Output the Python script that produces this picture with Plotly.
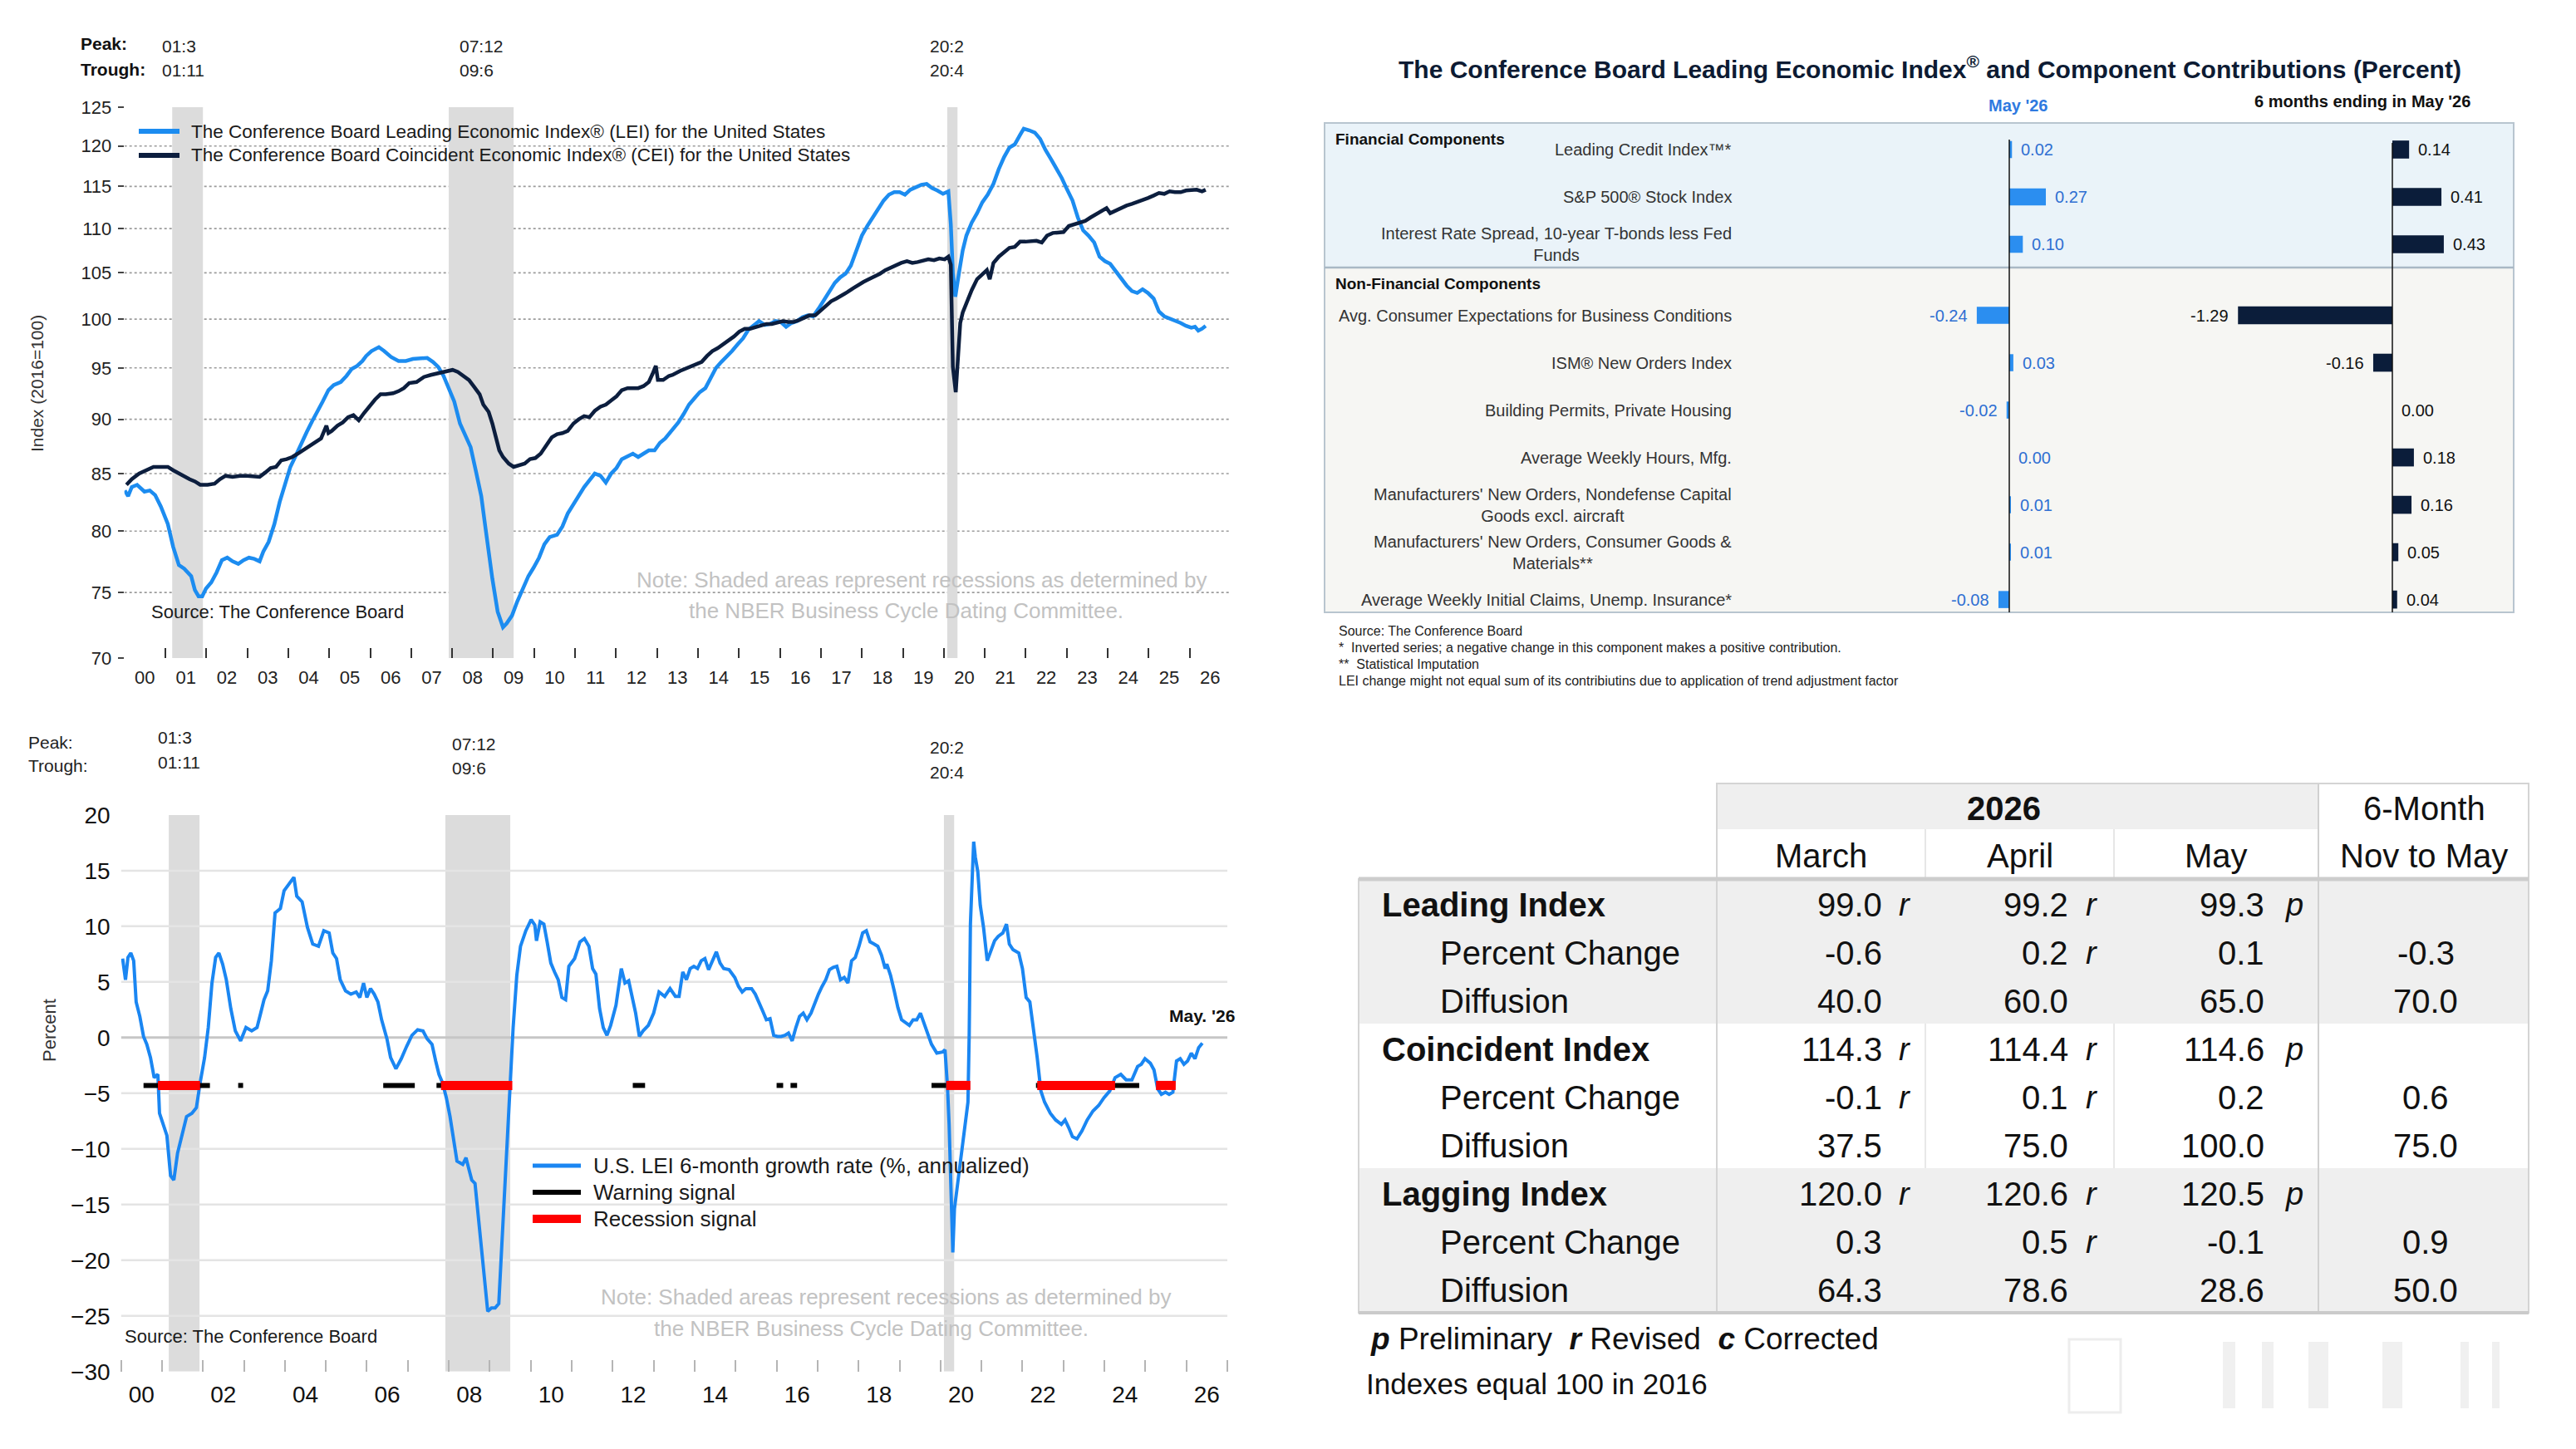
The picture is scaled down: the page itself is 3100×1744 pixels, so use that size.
import plotly.graph_objects as go

W, H = 3100, 1744
FONT = "Liberation Sans, Arial, sans-serif"


def px(x):
    return x / W


def py(y):
    return 1 - y / H


# ---------------------------------------------------------------- data
peak_dates = ["01:3", "07:12", "20:2"]
trough_dates = ["01:11", "09:6", "20:4"]

top_year_labels = ["%02d" % i for i in range(0, 27)]
bottom_year_labels = ["%02d" % i for i in range(0, 27, 2)]
top_y_ticks = [70, 75, 80, 85, 90, 95, 100, 105, 110, 115, 120, 125]
bottom_y_ticks = [-30, -25, -20, -15, -10, -5, 0, 5, 10, 15, 20]

lei = [
    (2000.01, 83.5), (2000.09, 83.0), (2000.18, 83.8), (2000.31, 84.0), (2000.49, 83.4), (2000.62, 83.5),
    (2000.75, 83.1), (2000.89, 82.1), (2001.06, 80.6), (2001.19, 78.7), (2001.33, 77.2), (2001.46, 76.9),
    (2001.63, 76.3), (2001.72, 75.2), (2001.81, 74.7), (2001.90, 74.7), (2001.99, 75.3), (2002.12, 75.8),
    (2002.25, 76.6), (2002.38, 77.6), (2002.51, 77.8), (2002.64, 77.5), (2002.78, 77.3), (2002.91, 77.6),
    (2003.04, 77.8), (2003.17, 77.7), (2003.30, 77.5), (2003.39, 78.3), (2003.52, 79.1), (2003.66, 80.6),
    (2003.79, 82.5), (2003.92, 84.0), (2004.05, 85.6), (2004.18, 86.6), (2004.32, 87.8), (2004.45, 88.8),
    (2004.58, 89.8), (2004.71, 90.7), (2004.84, 91.7), (2004.98, 92.8), (2005.11, 93.3), (2005.28, 93.6),
    (2005.42, 94.2), (2005.55, 94.9), (2005.68, 95.2), (2005.81, 95.7), (2005.90, 96.2), (2006.03, 96.7),
    (2006.21, 97.1), (2006.34, 96.7), (2006.51, 96.1), (2006.69, 95.7), (2006.87, 95.7), (2007.04, 95.9),
    (2007.22, 96.0), (2007.39, 96.0), (2007.53, 95.6), (2007.66, 95.1), (2007.79, 94.2), (2007.92, 93.0),
    (2008.05, 91.7), (2008.19, 89.6), (2008.32, 88.4), (2008.45, 87.4), (2008.58, 85.2), (2008.71, 83.0),
    (2008.80, 80.6), (2008.89, 78.1), (2008.98, 76.1), (2009.11, 73.5), (2009.24, 72.3), (2009.33, 72.6),
    (2009.46, 73.2), (2009.59, 74.3), (2009.72, 75.2), (2009.86, 76.3), (2009.99, 77.0), (2010.12, 77.8),
    (2010.25, 78.9), (2010.38, 79.5), (2010.56, 79.7), (2010.69, 80.4), (2010.82, 81.5), (2010.96, 82.3),
    (2011.09, 83.0), (2011.22, 83.8), (2011.35, 84.4), (2011.48, 85.0), (2011.62, 84.8), (2011.75, 84.2),
    (2011.88, 85.0), (2012.01, 85.5), (2012.14, 86.3), (2012.28, 86.6), (2012.41, 86.8), (2012.54, 86.5),
    (2012.67, 86.8), (2012.80, 87.1), (2012.94, 87.1), (2013.07, 87.8), (2013.20, 88.2), (2013.33, 88.8),
    (2013.52, 89.7), (2013.65, 90.5), (2013.78, 91.4), (2013.91, 92.0), (2014.04, 92.6), (2014.18, 93.0),
    (2014.31, 94.1), (2014.44, 95.0), (2014.57, 95.6), (2014.70, 96.1), (2014.83, 96.7), (2014.97, 97.4),
    (2015.10, 98.0), (2015.23, 98.9), (2015.36, 99.4), (2015.49, 99.8), (2015.63, 99.4), (2015.76, 99.5),
    (2015.89, 99.8), (2016.02, 99.7), (2016.15, 99.2), (2016.28, 99.6), (2016.42, 99.8), (2016.55, 100.2),
    (2016.68, 100.4), (2016.81, 100.3), (2016.94, 101.1), (2017.08, 102.1), (2017.21, 102.9), (2017.34, 103.9),
    (2017.47, 104.5), (2017.60, 104.9), (2017.73, 105.8), (2017.87, 107.5), (2018.00, 109.2), (2018.13, 110.3),
    (2018.26, 111.3), (2018.39, 112.4), (2018.53, 113.3), (2018.66, 114.0), (2018.79, 114.3), (2018.92, 114.3),
    (2019.05, 114.0), (2019.18, 114.6), (2019.32, 114.9), (2019.45, 115.2), (2019.58, 115.3), (2019.71, 114.8),
    (2019.84, 114.5), (2019.98, 114.1), (2020.11, 114.4), (2020.17, 110.5), (2020.22, 105.0), (2020.28, 102.4),
    (2020.37, 105.0), (2020.46, 107.5), (2020.55, 109.2), (2020.68, 110.7), (2020.81, 111.8), (2020.94, 113.1),
    (2021.07, 114.0), (2021.21, 115.3), (2021.34, 117.1), (2021.47, 118.6), (2021.60, 119.8), (2021.73, 120.2),
    (2021.86, 121.4), (2021.95, 122.2), (2022.08, 122.0), (2022.22, 121.7), (2022.35, 120.9), (2022.48, 119.5),
    (2022.61, 118.4), (2022.74, 117.3), (2022.88, 116.0), (2023.01, 114.6), (2023.14, 113.3), (2023.27, 111.3),
    (2023.40, 109.8), (2023.53, 109.2), (2023.67, 108.4), (2023.80, 106.8), (2023.93, 106.3), (2024.06, 106.0),
    (2024.19, 105.2), (2024.33, 104.3), (2024.46, 103.6), (2024.59, 103.0), (2024.72, 102.8), (2024.85, 103.2),
    (2024.98, 102.8), (2025.12, 102.2), (2025.25, 100.8), (2025.38, 100.3), (2025.51, 100.1), (2025.64, 99.9),
    (2025.78, 99.6), (2025.91, 99.3), (2026.04, 99.1), (2026.13, 99.2), (2026.21, 98.8), (2026.30, 99.0),
    (2026.39, 99.3),
]

cei = [
    (2000.05, 84.0), (2000.18, 84.5), (2000.36, 85.0), (2000.54, 85.3), (2000.71, 85.6), (2000.89, 85.6),
    (2001.06, 85.6), (2001.19, 85.3), (2001.33, 85.0), (2001.46, 84.7), (2001.59, 84.5), (2001.72, 84.3),
    (2001.85, 84.0), (2002.03, 84.0), (2002.20, 84.1), (2002.33, 84.5), (2002.47, 84.8), (2002.64, 84.7),
    (2002.82, 84.8), (2003.00, 84.8), (2003.17, 84.7), (2003.30, 84.7), (2003.44, 85.1), (2003.57, 85.5),
    (2003.70, 85.6), (2003.83, 86.2), (2003.96, 86.3), (2004.10, 86.5), (2004.23, 86.8), (2004.36, 87.1),
    (2004.49, 87.5), (2004.62, 87.8), (2004.80, 88.2), (2004.93, 89.4), (2004.98, 88.7), (2005.06, 88.9),
    (2005.20, 89.4), (2005.33, 89.7), (2005.46, 90.2), (2005.59, 90.4), (2005.72, 89.9), (2005.85, 90.6),
    (2005.99, 91.3), (2006.12, 91.9), (2006.25, 92.4), (2006.38, 92.4), (2006.56, 92.5), (2006.69, 92.7),
    (2006.82, 93.0), (2006.95, 93.5), (2007.13, 93.6), (2007.31, 94.1), (2007.48, 94.3), (2007.66, 94.5),
    (2007.84, 94.7), (2008.01, 94.8), (2008.14, 94.6), (2008.27, 94.2), (2008.41, 93.8), (2008.54, 93.1),
    (2008.67, 92.4), (2008.76, 91.4), (2008.89, 90.7), (2008.98, 89.6), (2009.07, 88.3), (2009.15, 87.1),
    (2009.24, 86.5), (2009.38, 85.9), (2009.50, 85.6), (2009.64, 85.8), (2009.77, 85.9), (2009.90, 86.3),
    (2010.03, 86.4), (2010.16, 86.8), (2010.30, 87.6), (2010.43, 88.3), (2010.56, 88.6), (2010.69, 88.7),
    (2010.82, 88.9), (2010.96, 89.6), (2011.09, 90.0), (2011.22, 90.3), (2011.35, 90.2), (2011.48, 90.8),
    (2011.62, 91.2), (2011.75, 91.4), (2011.88, 91.8), (2012.01, 92.2), (2012.14, 92.8), (2012.28, 93.0),
    (2012.41, 93.0), (2012.54, 93.0), (2012.67, 93.2), (2012.80, 93.6), (2012.89, 94.4), (2012.97, 95.2),
    (2013.02, 93.8), (2013.15, 93.8), (2013.29, 94.2), (2013.38, 94.3), (2013.56, 94.7), (2013.74, 95.0),
    (2013.91, 95.3), (2014.09, 95.6), (2014.22, 96.2), (2014.35, 96.7), (2014.48, 97.0), (2014.62, 97.4),
    (2014.75, 97.8), (2014.88, 98.2), (2015.01, 98.7), (2015.14, 99.0), (2015.27, 99.0), (2015.41, 99.2),
    (2015.54, 99.4), (2015.67, 99.5), (2015.80, 99.5), (2015.93, 99.6), (2016.07, 99.8), (2016.20, 99.7),
    (2016.33, 99.7), (2016.46, 99.9), (2016.59, 100.2), (2016.72, 100.4), (2016.86, 100.4), (2016.99, 100.9),
    (2017.12, 101.3), (2017.25, 101.9), (2017.38, 102.2), (2017.51, 102.5), (2017.65, 102.9), (2017.78, 103.3),
    (2017.91, 103.7), (2018.04, 104.0), (2018.17, 104.3), (2018.31, 104.6), (2018.44, 104.9), (2018.57, 105.3),
    (2018.70, 105.6), (2018.83, 105.9), (2018.96, 106.1), (2019.10, 106.3), (2019.23, 106.1), (2019.36, 106.2),
    (2019.49, 106.3), (2019.62, 106.5), (2019.76, 106.4), (2019.89, 106.6), (2020.02, 106.5), (2020.11, 106.8),
    (2020.17, 105.9), (2020.22, 95.1), (2020.29, 92.6), (2020.34, 95.9), (2020.40, 99.6), (2020.46, 100.7),
    (2020.55, 101.7), (2020.68, 103.1), (2020.81, 104.3), (2020.94, 104.8), (2021.05, 105.3), (2021.12, 104.3),
    (2021.21, 106.1), (2021.34, 106.8), (2021.47, 107.3), (2021.60, 107.8), (2021.73, 107.9), (2021.86, 108.5),
    (2021.99, 108.5), (2022.13, 108.5), (2022.26, 108.6), (2022.39, 108.4), (2022.52, 109.2), (2022.66, 109.5),
    (2022.79, 109.6), (2022.92, 109.6), (2023.05, 110.3), (2023.18, 110.5), (2023.31, 110.7), (2023.45, 110.9),
    (2023.58, 111.3), (2023.71, 111.7), (2023.84, 112.0), (2023.97, 112.4), (2024.06, 111.8), (2024.19, 112.1),
    (2024.33, 112.4), (2024.46, 112.7), (2024.59, 112.9), (2024.72, 113.1), (2024.85, 113.4), (2024.98, 113.6),
    (2025.12, 113.9), (2025.25, 114.2), (2025.38, 114.1), (2025.51, 114.4), (2025.64, 114.3), (2025.78, 114.3),
    (2025.91, 114.5), (2026.04, 114.6), (2026.17, 114.6), (2026.30, 114.4), (2026.39, 114.6),
]

growth = [
    (2000.04, 7.1), (2000.11, 5.2), (2000.17, 7.2), (2000.24, 7.6), (2000.31, 6.9), (2000.37, 3.2),
    (2000.46, 1.9), (2000.55, 0.1), (2000.63, -0.6), (2000.72, -1.8), (2000.81, -3.6), (2000.90, -3.3),
    (2000.94, -6.8), (2001.03, -7.8), (2001.12, -8.8), (2001.21, -12.4), (2001.29, -12.8), (2001.38, -10.4),
    (2001.47, -9.1), (2001.60, -7.1), (2001.73, -6.8), (2001.84, -6.3), (2001.93, -4.1), (2002.04, -1.8),
    (2002.13, 0.9), (2002.22, 4.9), (2002.31, 7.2), (2002.39, 7.6), (2002.48, 6.6), (2002.57, 5.2),
    (2002.68, 2.6), (2002.79, 0.6), (2002.92, -0.3), (2003.05, 0.9), (2003.19, 0.6), (2003.32, 0.9),
    (2003.41, 2.2), (2003.49, 3.4), (2003.58, 4.2), (2003.67, 6.9), (2003.76, 11.2), (2003.89, 11.6),
    (2003.98, 13.2), (2004.11, 13.9), (2004.22, 14.4), (2004.29, 12.7), (2004.42, 12.2), (2004.55, 9.9),
    (2004.68, 8.4), (2004.82, 8.2), (2004.95, 9.6), (2005.08, 9.4), (2005.17, 7.6), (2005.26, 7.1),
    (2005.35, 5.2), (2005.48, 4.2), (2005.61, 3.9), (2005.74, 4.1), (2005.83, 3.6), (2005.92, 4.9),
    (2006.00, 3.6), (2006.09, 4.4), (2006.18, 3.9), (2006.27, 3.2), (2006.36, 1.6), (2006.49, -0.1),
    (2006.58, -1.8), (2006.71, -2.8), (2006.84, -1.9), (2006.97, -0.8), (2007.10, 0.2), (2007.24, 0.7),
    (2007.37, 0.6), (2007.47, -0.1), (2007.59, -0.6), (2007.68, -2.1), (2007.76, -3.3), (2007.85, -4.1),
    (2007.94, -5.4), (2008.03, -7.1), (2008.12, -9.4), (2008.20, -11.1), (2008.34, -11.4), (2008.42, -10.8),
    (2008.49, -11.8), (2008.56, -12.8), (2008.64, -13.1), (2008.73, -16.4), (2008.82, -19.4), (2008.88, -21.8),
    (2008.95, -24.6), (2009.04, -24.3), (2009.13, -24.3), (2009.22, -23.9), (2009.30, -18.4), (2009.39, -11.8),
    (2009.48, -5.1), (2009.57, 0.9), (2009.66, 5.6), (2009.75, 8.2), (2009.88, 9.6), (2010.01, 10.6),
    (2010.10, 10.1), (2010.14, 8.7), (2010.23, 10.4), (2010.32, 10.2), (2010.40, 8.6), (2010.49, 6.7),
    (2010.58, 5.9), (2010.67, 5.2), (2010.76, 3.6), (2010.85, 3.4), (2010.93, 6.4), (2011.07, 7.1),
    (2011.20, 8.6), (2011.31, 8.9), (2011.42, 8.2), (2011.51, 6.2), (2011.59, 5.7), (2011.68, 2.6),
    (2011.77, 0.9), (2011.86, 0.2), (2011.95, 1.1), (2012.08, 2.9), (2012.21, 6.2), (2012.30, 4.9),
    (2012.39, 5.1), (2012.47, 3.6), (2012.56, 2.2), (2012.65, 0.1), (2012.74, 0.6), (2012.87, 1.1),
    (2013.00, 2.2), (2013.13, 4.1), (2013.27, 3.7), (2013.40, 4.4), (2013.53, 3.7), (2013.62, 3.7),
    (2013.71, 5.9), (2013.80, 5.2), (2013.89, 6.2), (2013.98, 6.4), (2014.07, 6.2), (2014.16, 6.9),
    (2014.25, 7.1), (2014.34, 6.1), (2014.43, 6.9), (2014.53, 7.7), (2014.62, 6.7), (2014.71, 6.2),
    (2014.84, 6.1), (2014.98, 5.4), (2015.07, 4.6), (2015.16, 4.1), (2015.25, 4.4), (2015.39, 4.4),
    (2015.48, 3.9), (2015.57, 3.2), (2015.66, 2.4), (2015.75, 1.6), (2015.84, 1.7), (2015.93, 0.2),
    (2016.02, 0.1), (2016.11, 0.1), (2016.20, 0.2), (2016.29, 0.4), (2016.38, -0.3), (2016.47, 0.9),
    (2016.56, 1.9), (2016.65, 2.2), (2016.74, 1.6), (2016.84, 2.2), (2016.93, 3.1), (2017.02, 3.9),
    (2017.11, 4.6), (2017.20, 5.2), (2017.29, 6.1), (2017.38, 6.3), (2017.47, 6.4), (2017.56, 5.2),
    (2017.65, 5.4), (2017.74, 4.9), (2017.83, 6.9), (2017.92, 7.2), (2018.01, 8.2), (2018.10, 9.4),
    (2018.19, 9.6), (2018.28, 8.6), (2018.38, 8.4), (2018.47, 8.2), (2018.56, 7.4), (2018.65, 6.2),
    (2018.69, 6.6), (2018.78, 5.6), (2018.87, 4.2), (2018.96, 2.7), (2019.05, 1.6), (2019.14, 1.4),
    (2019.24, 1.1), (2019.33, 1.6), (2019.42, 1.6), (2019.51, 2.2), (2019.60, 1.2), (2019.69, 0.2),
    (2019.78, -0.6), (2019.91, -1.4), (2020.05, -1.3), (2020.11, -1.1), (2020.17, -4.4), (2020.21, -7.8),
    (2020.26, -14.4), (2020.30, -19.3), (2020.34, -15.4), (2020.41, -13.4), (2020.50, -10.4), (2020.59, -8.1),
    (2020.67, -5.8), (2020.70, 0.2), (2020.73, 10.2), (2020.78, 14.9), (2020.81, 17.6), (2020.85, 16.2),
    (2020.91, 14.9), (2020.97, 11.9), (2021.05, 9.9), (2021.14, 6.9), (2021.23, 7.9), (2021.32, 8.7),
    (2021.41, 9.1), (2021.52, 9.4), (2021.61, 10.2), (2021.68, 8.4), (2021.77, 7.9), (2021.91, 7.6),
    (2022.00, 6.2), (2022.09, 3.6), (2022.18, 3.2), (2022.27, 0.9), (2022.36, -1.8), (2022.45, -4.8),
    (2022.54, -5.8), (2022.68, -6.8), (2022.81, -7.4), (2022.95, -7.8), (2023.04, -7.4), (2023.13, -8.1),
    (2023.22, -8.9), (2023.33, -9.1), (2023.45, -8.4), (2023.58, -7.4), (2023.72, -6.6), (2023.86, -6.1),
    (2023.99, -5.4), (2024.13, -4.8), (2024.26, -3.6), (2024.40, -3.3), (2024.53, -3.8), (2024.67, -3.8),
    (2024.81, -2.6), (2024.90, -2.4), (2024.99, -1.9), (2025.12, -2.3), (2025.21, -2.9), (2025.30, -4.6),
    (2025.39, -5.1), (2025.49, -4.9), (2025.58, -5.1), (2025.67, -4.9), (2025.76, -2.1), (2025.85, -1.9),
    (2025.94, -2.4), (2026.03, -2.1), (2026.12, -1.4), (2026.21, -1.9), (2026.30, -0.9), (2026.39, -0.5),
]

warning_periods = [(2000.55, 2002.17), (2002.86, 2002.98), (2006.40, 2007.17), (2007.70, 2007.85),
                   (2012.49, 2012.79), (2016.00, 2016.16), (2016.34, 2016.50), (2019.78, 2020.14),
                   (2022.33, 2022.40), (2024.20, 2024.85)]
recession_signal_periods = [(2000.90, 2001.93), (2007.81, 2009.55), (2020.14, 2020.73),
                            (2022.36, 2024.26), (2025.26, 2025.74)]
signal_level = -4.3

components = [
    "Leading Credit Index™*",
    "S&P 500® Stock Index",
    "Interest Rate Spread, 10-year T-bonds less Fed<br>Funds",
    "Avg. Consumer Expectations for Business Conditions",
    "ISM® New Orders Index",
    "Building Permits, Private Housing",
    "Average Weekly Hours, Mfg.",
    "Manufacturers' New Orders, Nondefense Capital<br>Goods excl. aircraft",
    "Manufacturers' New Orders, Consumer Goods &<br>Materials**",
    "Average Weekly Initial Claims, Unemp. Insurance*",
]
component_group = ["fin", "fin", "fin", "non", "non", "non", "non", "non", "non", "non"]
may_contrib = [0.02, 0.27, 0.10, -0.24, 0.03, -0.02, 0.00, 0.01, 0.01, -0.08]
six_month_contrib = [0.14, 0.41, 0.43, -1.29, -0.16, 0.00, 0.18, 0.16, 0.05, 0.04]

table_labels = ["Leading Index", "Percent Change", "Diffusion",
                "Coincident Index", "Percent Change", "Diffusion",
                "Lagging Index", "Percent Change", "Diffusion"]
table_is_index = [True, False, False, True, False, False, True, False, False]
table_months = ["March", "April", "May"]
march_vals = [99.0, -0.6, 40.0, 114.3, -0.1, 37.5, 120.0, 0.3, 64.3]
march_flags = ["r", "", "", "r", "r", "", "r", "", ""]
april_vals = [99.2, 0.2, 60.0, 114.4, 0.1, 75.0, 120.6, 0.5, 78.6]
april_flags = ["r", "r", "", "r", "r", "", "r", "r", ""]
may_vals = [99.3, 0.1, 65.0, 114.6, 0.2, 100.0, 120.5, -0.1, 28.6]
may_flags = ["p", "", "", "p", "", "", "p", "", ""]
six_month_vals = [None, -0.3, 70.0, None, 0.6, 75.0, None, 0.9, 50.0]

# ---------------------------------------------------------------- helpers
shapes = []
annotations = []


def ann(x, y, text, size, color="#222222", xanchor="left", yanchor="middle", xref="paper", yref="paper",
        align="left", **kw):
    annotations.append(dict(x=x, y=y, xref=xref, yref=yref, text=text, showarrow=False,
                            xanchor=xanchor, yanchor=yanchor, align=align,
                            font=dict(family=FONT, size=size, color=color), **kw))


def rect(x0, y0, x1, y1, fill="rgba(0,0,0,0)", line="rgba(0,0,0,0)", lw=0, layer="below"):
    shapes.append(dict(type="rect", xref="paper", yref="paper", x0=px(x0), x1=px(x1), y0=py(y1), y1=py(y0),
                       fillcolor=fill, line=dict(color=line, width=lw), layer=layer))


def pline(x0, y0, x1, y1, color, width, layer="below"):
    shapes.append(dict(type="line", xref="paper", yref="paper", x0=px(x0), x1=px(x1), y0=py(y0), y1=py(y1),
                       line=dict(color=color, width=width), layer=layer))


def ym(s, end=False):
    yy, mm = s.split(":")
    return 2000 + int(yy) + (int(mm) - (0 if end else 1)) / 12.0


fig = go.Figure()

# ---------------------------------------------------------------- top-left: LEI / CEI
fig.add_trace(go.Scatter(x=[p[0] for p in lei], y=[p[1] for p in lei], mode="lines",
                         line=dict(color="#1c8cf0", width=4.5), xaxis="x", yaxis="y", hoverinfo="skip"))
fig.add_trace(go.Scatter(x=[p[0] for p in cei], y=[p[1] for p in cei], mode="lines",
                         line=dict(color="#0c1e3e", width=4.5), xaxis="x", yaxis="y", hoverinfo="skip"))

for v in top_y_ticks[1:-1]:
    shapes.append(dict(type="line", xref="x", yref="y", x0=2000, x1=2027, y0=v, y1=v,
                       line=dict(color="#9c9c9c", width=1.6, dash="dot"), layer="below"))

for pk, tr in zip(peak_dates, trough_dates):
    shapes.append(dict(type="rect", xref="x", yref="y", x0=ym(pk), x1=ym(tr, end=True),
                       y0=top_y_ticks[0], y1=top_y_ticks[-1],
                       fillcolor="#dcdcdc", line=dict(width=0), layer="below"))
    shapes.append(dict(type="rect", xref="x2", yref="y2", x0=ym(pk), x1=ym(tr, end=True),
                       y0=bottom_y_ticks[0], y1=bottom_y_ticks[-1],
                       fillcolor="#dcdcdc", line=dict(width=0), layer="below"))

# top legend
pline(167, 158, 216, 158, "#1c8cf0", 6, layer="above")
pline(167, 187, 216, 187, "#0c1e3e", 6, layer="above")
ann(px(228), py(158), "The Conference Board Leading Economic Index® (LEI) for the United States", 22.5, "#1a1a1a")
ann(px(228), py(187), "The Conference Board Coincident Economic Index® (CEI) for the United States", 22.5, "#1a1a1a")

# peak / trough (top)
ann(px(95), py(53), "<b>Peak:</b>", 21, "#111")
ann(px(95), py(84), "<b>Trough:</b>", 21, "#111")
for xx, pk, tr in zip([193, 551, 1117], peak_dates, trough_dates):
    ann(px(xx), py(55), pk, 21, "#222")
    ann(px(xx), py(85), tr, 21, "#222")

ann(px(44), py(462), "Index (2016=100)", 21, "#333", xanchor="center", textangle=-90)
ann(px(180), py(736), "Source: The Conference Board", 22, "#1a1a1a")
ann(px(1109), py(698), "Note: Shaded areas represent recessions as determined by", 26, "#c2c2c2",
    xanchor="center")
ann(px(1090), py(735), "the NBER Business Cycle Dating Committee.", 26, "#c2c2c2", xanchor="center")

# ---------------------------------------------------------------- bottom-left: growth
for v in bottom_y_ticks[1:-1]:
    shapes.append(dict(type="line", xref="x2", yref="y2", x0=2000, x1=2027, y0=v, y1=v,
                       line=dict(color="#c6c6c6" if v == 0 else "#e4e4e4", width=3 if v == 0 else 2.5),
                       layer="below"))

fig.add_trace(go.Scatter(x=[p[0] for p in growth], y=[p[1] for p in growth], mode="lines",
                         line=dict(color="#1a86f2", width=4), xaxis="x2", yaxis="y2", hoverinfo="skip"))


def seg_xy(periods):
    xs, ys = [], []
    for a, b in periods:
        xs += [a, b, None]
        ys += [signal_level, signal_level, None]
    return xs, ys


wx, wy = seg_xy(warning_periods)
fig.add_trace(go.Scatter(x=wx, y=wy, mode="lines", line=dict(color="#000000", width=6),
                         xaxis="x2", yaxis="y2", hoverinfo="skip"))
rx, ry = seg_xy(recession_signal_periods)
fig.add_trace(go.Scatter(x=rx, y=ry, mode="lines", line=dict(color="#ff0000", width=11),
                         xaxis="x2", yaxis="y2", hoverinfo="skip"))

# bottom legend
pline(641, 1403, 699, 1403, "#1a86f2", 5, layer="above")
pline(641, 1435, 699, 1435, "#000000", 6, layer="above")
pline(641, 1467, 699, 1467, "#ff0000", 10, layer="above")
ann(px(712), py(1403), "U.S. LEI 6-month growth rate (%, annualized)", 26, "#1a1a1a")
ann(px(712), py(1435), "Warning signal", 26, "#1a1a1a")
ann(px(712), py(1467), "Recession signal", 26, "#1a1a1a")

ann(px(32), py(893), "Peak:", 21, "#222")
ann(px(32), py(921), "Trough:", 21, "#222")
for xx, yy, pk, tr in zip([188, 542, 1117], [888, 895, 900], peak_dates, trough_dates):
    ann(px(xx), py(yy), pk, 21, "#222")
    ann(px(xx), py(yy + 29), tr, 21, "#222")

ann(px(59), py(1240), "Percent", 22, "#333", xanchor="center", textangle=-90)
ann(px(148), py(1608), "Source: The Conference Board", 22, "#1a1a1a")
ann(px(1066), py(1561), "Note: Shaded areas represent recessions as determined by", 26, "#c2c2c2",
    xanchor="center")
ann(px(1048), py(1599), "the NBER Business Cycle Dating Committee.", 26, "#c2c2c2", xanchor="center")
ann(2026.38, 2.0, "<b>May. '26</b>", 21, "#111", xanchor="center", xref="x2", yref="y2")

# ---------------------------------------------------------------- top-right: contributions
positions = []
k_fin = 0
k_non = 0
for g in component_group:
    if g == "fin":
        positions.append(k_fin)
        k_fin += 1
    else:
        positions.append(3.5 + k_non)
        k_non += 1

rect(1594, 148, 3025, 322, fill="#eaf3f9")
rect(1594, 322, 3025, 737, fill="#f6f6f3")
rect(1594, 148, 3025, 737, line="#b8c5cf", lw=2)
pline(1594, 322, 3025, 322, "#a9b8c5", 2.5)

fig.add_trace(go.Bar(x=may_contrib, y=positions, orientation="h", width=0.36,
                     marker=dict(color="#2b8ef0", line=dict(width=0)), xaxis="x3", yaxis="y3", hoverinfo="skip"))
fig.add_trace(go.Bar(x=six_month_contrib, y=positions, orientation="h", width=0.38,
                     marker=dict(color="#0b1d3a", line=dict(width=0)), xaxis="x4", yaxis="y3", hoverinfo="skip"))

shapes.append(dict(type="line", xref="x3", yref="paper", x0=0, x1=0, y0=py(737), y1=py(168),
                   line=dict(color="#111", width=1.5), layer="above"))
shapes.append(dict(type="line", xref="x4", yref="paper", x0=0, x1=0, y0=py(737), y1=py(172),
                   line=dict(color="#111", width=1.5), layer="above"))

for name, pos, mv, sv in zip(components, positions, may_contrib, six_month_contrib):
    ann(px(2086), pos, name, 20, "#333", xanchor="right", yref="y3", align="center")
    ann(mv, pos, "%.2f" % mv, 20, "#2f6fd2", xanchor="left" if mv >= 0 else "right",
        xref="x3", yref="y3", xshift=9 if mv >= 0 else -9)
    ann(sv, pos, "%.2f" % sv, 20, "#111", xanchor="left" if sv >= 0 else "right",
        xref="x4", yref="y3", xshift=9 if sv >= 0 else -9)

ann(px(1605), py(168), "<b>Financial Components</b>", 19, "#111")
ann(px(1605), py(342), "<b>Non-Financial Components</b>", 19, "#111")
ann(px(2322), py(81), "<b>The Conference Board Leading Economic Index<sup>®</sup> and Component Contributions (Percent)</b>",
    30, "#0d1b33", xanchor="center")
ann(px(2428), py(127), "<b>May '26</b>", 20, "#2f7ae0", xanchor="center")
ann(px(2843), py(122), "<b>6 months ending in May '26</b>", 20, "#111", xanchor="center")

foot = ["Source: The Conference Board",
        "*  Inverted series; a negative change in this component makes a positive contribution.",
        "**  Statistical Imputation",
        "LEI change might not equal sum of its contribiutins due to application of trend adjustment factor"]
for i, t in enumerate(foot):
    ann(px(1609), py(760 + 19.7 * i), t, 16, "#222")

# ---------------------------------------------------------------- bottom-right: summary table
c = [1635, 2066, 2317, 2544, 2790, 3043]
top, mid, hb, rh = 943, 998, 1058, 58
bot = hb + rh * 9

rect(c[1], top, c[4], mid, fill="#efefef")
rect(c[0], hb, c[5], hb + 3 * rh, fill="#efefef")
rect(c[0], hb + 6 * rh, c[5], bot, fill="#efefef")
for xx in (c[2], c[3]):
    pline(xx, mid, xx, hb, "#e6e6e6", 2)
    pline(xx, hb + 3 * rh, xx, hb + 6 * rh, "#e8e8e8", 2)
pline(c[4], top, c[4], bot, "#d0d0d0", 2)
pline(c[1], top, c[1], bot, "#d4d4d4", 2)
rect(c[1], top, c[5], hb, line="#d4d4d4", lw=2)
rect(c[0], hb, c[5], bot, line="#d4d4d4", lw=2)
pline(c[0], hb, c[5], hb, "#cdcdcd", 5)
pline(c[0], bot, c[5], bot, "#cacaca", 4)

ann(px(2411), py(973), "<b>2026</b>", 40, "#111", xanchor="center")
ann(px(2917), py(973), "6-Month", 40, "#111", xanchor="center")
ann(px(2917), py(1030), "Nov to May", 40, "#111", xanchor="center")
for xx, m in zip([(c[1] + c[2]) / 2, (c[2] + c[3]) / 2, (c[3] + c[4]) / 2], table_months):
    ann(px(xx), py(1030), m, 40, "#111", xanchor="center")

num_right = [2267, 2491, 2727]
flag_left = [2283, 2508, 2748]
for i, lab in enumerate(table_labels):
    yc = hb + rh * (i + 0.5) + 2
    if table_is_index[i]:
        ann(px(1661), py(yc), "<b>%s</b>" % lab, 40, "#111")
    else:
        ann(px(1731), py(yc), lab, 40, "#111")
    for vals, flags, xr, xf in zip([march_vals, april_vals, may_vals], [march_flags, april_flags, may_flags],
                                   num_right, flag_left):
        ann(px(xr), py(yc), "%.1f" % vals[i], 40, "#111", xanchor="right")
        if flags[i]:
            ann(px(xf), py(yc), "<i>%s</i>" % flags[i], 38, "#111")
    if six_month_vals[i] is not None:
        ann(px(2919), py(yc), "%.1f" % six_month_vals[i], 40, "#111", xanchor="center")

ann(px(1647), py(1611),
    "<b><i>p</i></b> Preliminary\u00a0 <b><i>r</i></b> Revised\u00a0 <b><i>c</i></b> Corrected", 37, "#111")
ann(px(1642), py(1665), "Indexes equal 100 in 2016", 35, "#111")

# faint scan marks in the lower-right corner of the source image
rect(2490, 1612, 2552, 1700, fill="rgba(0,0,0,0)", line="#ededed", lw=3)
for x0, x1 in [(2675, 2690), (2722, 2736), (2778, 2802), (2867, 2891), (2961, 2971), (2999, 3008)]:
    rect(x0, 1615, x1, 1695, fill="#f0f0f0")

# ---------------------------------------------------------------- layout
fig.update_layout(
    template="none",
    width=W, height=H, margin=dict(l=0, r=0, t=0, b=0, pad=0, autoexpand=False),
    paper_bgcolor="white", plot_bgcolor="rgba(0,0,0,0)",
    showlegend=False, barmode="overlay",
    font=dict(family=FONT, color="#222"),
    shapes=shapes, annotations=annotations,
    xaxis=dict(domain=[px(149.7), px(1481)], range=[2000, 2027], anchor="y", automargin=False,
               tickmode="array", tickvals=[2000.5 + i for i in range(len(top_year_labels))],
               ticktext=top_year_labels, ticks="", showgrid=False, zeroline=False, showline=False,
               tickfont=dict(size=22, color="#222"), ticklabelstandoff=8,
               minor=dict(tickmode="array", tickvals=list(range(2001, 2027)), ticks="inside",
                          ticklen=12, tickwidth=2, tickcolor="#333", showgrid=False)),
    yaxis=dict(domain=[py(792), py(129)], type="log", range=[1.845098, 2.09691], anchor="x", automargin=False,
               tickmode="array", tickvals=top_y_ticks, ticktext=[str(v) for v in top_y_ticks],
               ticks="outside", ticklen=7, tickwidth=1.5, tickcolor="#444",
               showgrid=False, zeroline=False, showline=False,
               tickfont=dict(size=22, color="#222"), ticklabelstandoff=3),
    xaxis2=dict(domain=[px(145.6), px(1477)], range=[2000, 2027], anchor="y2", automargin=False,
                tickmode="array", tickvals=[2000.5 + 2 * i for i in range(len(bottom_year_labels))],
                ticktext=bottom_year_labels, ticks="", showgrid=False, zeroline=False, showline=False,
                tickfont=dict(size=28, color="#111"), ticklabelstandoff=8,
                minor=dict(tickmode="array", tickvals=list(range(2000, 2028)), ticks="inside",
                           ticklen=14, tickwidth=1.5, tickcolor="#b5b5b5", showgrid=False)),
    yaxis2=dict(domain=[py(1650.7), py(980.9)], range=[-30, 20], anchor="x2", automargin=False,
                tickmode="array", tickvals=bottom_y_ticks, ticks="", showgrid=False, zeroline=False,
                showline=False, tickfont=dict(size=28, color="#111"), ticklabelstandoff=12),
    xaxis3=dict(domain=[px(2100), px(2650)], range=[(2100 - 2418) / 163.0, (2650 - 2418) / 163.0],
                anchor="y3", visible=False, automargin=False, showgrid=False, zeroline=False),
    xaxis4=dict(domain=[px(2650), px(3020)], range=[(2650 - 2879) / 144.0, (3020 - 2879) / 144.0],
                anchor="y3", visible=False, automargin=False, showgrid=False, zeroline=False),
    yaxis3=dict(domain=[py(737), py(148)], range=[9.77, -0.561], anchor="x3", visible=False,
                automargin=False, showgrid=False, zeroline=False),
)

fig.write_html("out.html")
